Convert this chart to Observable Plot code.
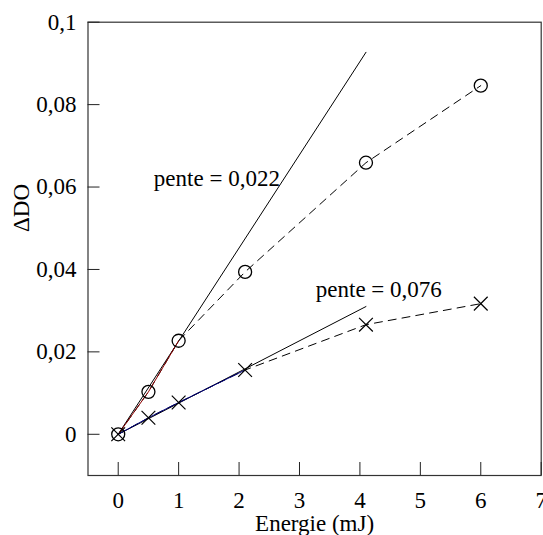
<!DOCTYPE html>
<html>
<head>
<meta charset="utf-8">
<script src="https://cdn.jsdelivr.net/npm/d3@7"></script>
<script src="https://cdn.jsdelivr.net/npm/@observablehq/plot@0.6"></script>
<style>
  html, body { margin: 0; padding: 0; background: white; }
</style>
</head>
<body>
<div id="chart"></div>
<script>
// Data
const energy = [0, 0.5, 1, 2.1, 4.1, 6];
const doCircles = [0, 0.0103, 0.0227, 0.0394, 0.0659, 0.0846];
const doCrosses = [0, 0.0040, 0.0077, 0.0156, 0.0266, 0.0317];
const fitX = [0, 4.1];
const fitCircles = [0, 0.0927];
const fitCrosses = [0, 0.0310];
const xTicks = [0, 1, 2, 3, 4, 5, 6, 7];
const xTickLabels = ["0", "1", "2", "3", "4", "5", "6", "7"];
const yTicks = [0, 0.02, 0.04, 0.06, 0.08, 0.1];
const yTickLabels = ["0", "0,02", "0,04", "0,06", "0,08", "0,1"];
const annotations = ["pente = 0,022", "pente = 0,076"];
const annotX = [0.59, 3.27];
const annotY = [0.062, 0.0351];

const circles = energy.map((x, i) => ({x, y: doCircles[i]}));
const crosses = energy.map((x, i) => ({x, y: doCrosses[i]}));
const fitC = fitX.map((x, i) => ({x, y: fitCircles[i]}));
const fitK = fitX.map((x, i) => ({x, y: fitCrosses[i]}));
const annots = annotations.map((t, i) => ({t, x: annotX[i], y: annotY[i]}));

const font = "Liberation Serif";

const chart = Plot.plot({
  width: 543,
  height: 535,
  marginLeft: 87.5,
  marginRight: 2.3,
  marginTop: 21.7,
  marginBottom: 60,
  style: {fontSize: "23px", fontFamily: font},
  x: {domain: [-0.5, 7]},
  y: {domain: [-0.01, 0.1]},
  marks: [
    Plot.frame({stroke: "#333", strokeWidth: 1.2}),
    Plot.axisX({ticks: xTicks, tickSize: -13, tickPadding: 29, tickFormat: d => xTickLabels[xTicks.indexOf(d)], label: null, fontSize: 23, fontFamily: font, stroke: "#222"}),
    Plot.axisY({ticks: yTicks, tickSize: -12, tickPadding: 23.5, tickFormat: d => yTickLabels[yTicks.indexOf(d)], label: null, fontSize: 23, fontFamily: font, stroke: "#222"}),
    Plot.line(circles, {x: "x", y: "y", stroke: "black", strokeWidth: 1, strokeDasharray: "8,6"}),
    Plot.line(crosses, {x: "x", y: "y", stroke: "black", strokeWidth: 1, strokeDasharray: "8,6"}),
    Plot.line(fitC, {x: "x", y: "y", stroke: "black", strokeWidth: 1}),
    Plot.line(fitK, {x: "x", y: "y", stroke: "black", strokeWidth: 1}),
    Plot.line(circles.slice(0, 3), {x: "x", y: "y", stroke: "#8b0000", strokeWidth: 1}),
    Plot.line(crosses.slice(0, 4), {x: "x", y: "y", stroke: "#000080", strokeWidth: 1}),
    Plot.dot(circles, {x: "x", y: "y", r: 6.5, symbol: "circle", fill: "none", stroke: "black", strokeWidth: 1.3}),
    Plot.dot(crosses, {x: "x", y: "y", r: 6.3, symbol: "times", stroke: "black", strokeWidth: 1.2}),
    Plot.text(annots, {x: "x", y: "y", text: "t", textAnchor: "start", lineAnchor: "middle", fontSize: 23, fontFamily: font, fill: "black"}),
    Plot.text(["Energie (mJ)"], {text: d => d, frameAnchor: "bottom", lineAnchor: "top", dy: 39, fontSize: 23, fontFamily: font, fill: "black"}),
    Plot.text(["ΔDO"], {text: d => d, frameAnchor: "left", rotate: -90, dx: -66.5, dy: -16.9, fontSize: 23, fontFamily: font, fill: "black"})
  ]
});
chart.setAttribute("font-family", font);
chart.setAttribute("font-size", "23");
chart.querySelectorAll("text").forEach(el => {
  el.setAttribute("font-family", font);
  el.setAttribute("font-size", "23");
  el.style.fontFamily = "'Liberation Serif'";
  el.style.fontSize = "23px";
});
document.getElementById("chart").appendChild(chart);
</script>
</body>
</html>
